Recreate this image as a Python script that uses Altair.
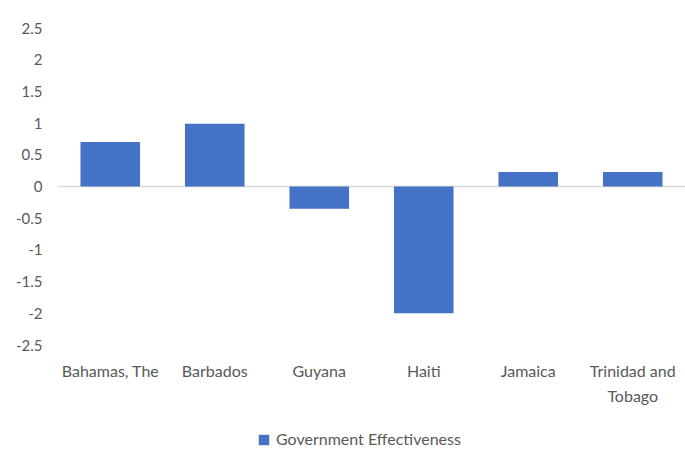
import altair as alt
import pandas as pd

countries = ["Bahamas, The", "Barbados", "Guyana", "Haiti", "Jamaica", "Trinidad and Tobago"]
values = [0.70, 0.99, -0.35, -2.0, 0.23, 0.23]
series = ["Government Effectiveness"] * len(countries)
y_ticks = [2.5, 2, 1.5, 1, 0.5, 0, -0.5, -1, -1.5, -2, -2.5]

df = pd.DataFrame({"country": countries, "value": values, "series": series})

FONT = "Lato"
GREY = "#595959"

yaxis = alt.Axis(values=y_ticks, domain=False, ticks=False, grid=False,
                 labelPadding=16, labelFontSize=15, labelColor=GREY,
                 labelOverlap=False, labelFlush=False,
                 labelFont=FONT, labelExpr="datum.value + ''")

bars = alt.Chart(df).mark_bar(color="#4472C4").encode(
    x=alt.X("country:N", sort=countries, title=None,
            scale=alt.Scale(paddingInner=0.43, paddingOuter=0.215),
            axis=alt.Axis(domain=False, ticks=False, labelAngle=0, labelPadding=18,
                          labelFontSize=16, labelColor=GREY, labelFont=FONT,
                          labelLineHeight=25, labelOverlap=False, labelBound=False,
                          labelExpr="datum.label == 'Trinidad and Tobago' ? ['Trinidad and', 'Tobago'] : datum.label")),
    y=alt.Y("value:Q", title=None,
            scale=alt.Scale(domain=[-2.5, 2.5], nice=False),
            axis=yaxis),
    color=alt.Color("series:N", title=None,
                    scale=alt.Scale(range=["#4472C4"]),
                    legend=alt.Legend(orient="none", legendX=198, legendY=404,
                                      symbolType="square", symbolSize=110,
                                      labelLimit=0,
                                      labelFontSize=16, labelColor=GREY, labelFont=FONT)),
)

zero = alt.Chart(pd.DataFrame({"z": [0]})).mark_rule(color="#d9d9d9", strokeWidth=1.5).encode(
    y=alt.Y("z:Q", axis=yaxis, title=None)
)

chart = alt.layer(zero, bars).properties(
    width=627, height=317,
    padding={"left": 58, "top": 28, "right": 0, "bottom": 105},
    autosize=alt.AutoSizeParams(type="none"),
    background="white",
).configure_view(stroke=None)

chart.save("out.html", embed_options={"renderer": "svg", "actions": False})
